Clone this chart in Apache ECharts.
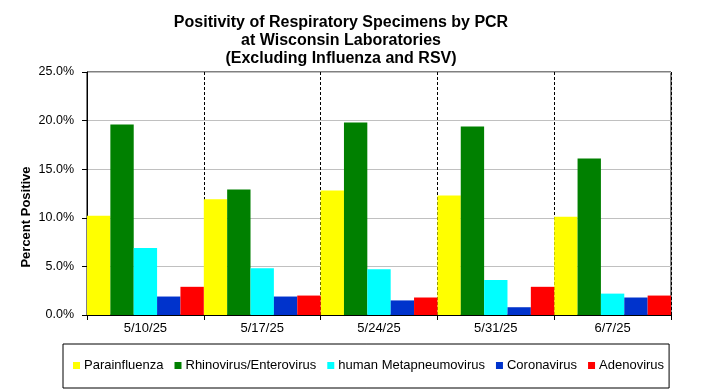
<!DOCTYPE html>
<html>
<head>
<meta charset="utf-8">
<script src="https://cdn.jsdelivr.net/npm/echarts@6/dist/echarts.min.js"></script>
<style>html,body{margin:0;padding:0;background:#fff}#c{width:704px;height:391px}</style>
</head>
<body>
<div id="c"></div>
<script>
const categories = ['5/10/25', '5/17/25', '5/24/25', '5/31/25', '6/7/25'];
const parainfluenza = [10.2, 11.9, 12.8, 12.3, 10.1];
const rhinoEntero = [19.6, 12.9, 19.8, 19.4, 16.1];
const hMPV = [6.9, 4.8, 4.7, 3.6, 2.2];
const coronavirus = [1.9, 1.9, 1.5, 0.8, 1.8];
const adenovirus = [2.9, 2.0, 1.8, 2.9, 2.0];
const seriesNames = ['Parainfluenza', 'Rhinovirus/Enterovirus', 'human Metapneumovirus', 'Coronavirus', 'Adenovirus'];
const seriesColors = ['#FFFF00', '#008000', '#00FFFF', '#0033CC', '#FF0000'];
const seriesData = [parainfluenza, rhinoEntero, hMPV, coronavirus, adenovirus];

const chart = echarts.init(document.getElementById('c'));
const font = 'Arial, "Liberation Sans", sans-serif';
chart.setOption({
  animation: false,
  backgroundColor: '#fff',
  textStyle: { fontFamily: font },
  title: {
    text: 'Positivity of Respiratory Specimens by PCR\nat Wisconsin Laboratories\n(Excluding Influenza and RSV)',
    left: 341,
    textAlign: 'center',
    top: 14,
    padding: 0,
    textStyle: { fontSize: 16, fontWeight: 'bold', color: '#000', lineHeight: 18, fontFamily: font }
  },
  graphic: [{
    type: 'text',
    x: 26, y: 217,
    rotation: Math.PI / 2,
    style: {
      text: 'Percent Positive',
      fontSize: 13, fontWeight: 'bold', fill: '#000', fontFamily: font,
      align: 'center', verticalAlign: 'middle'
    }
  }],
  legend: {
    left: 63,
    top: 344,
    orient: 'horizontal',
    borderColor: '#000',
    borderWidth: 1,
    padding: [15, 5, 16, 10],
    itemWidth: 7,
    itemHeight: 7,
    itemGap: 11,
    icon: 'rect',
    textStyle: { fontSize: 13, color: '#000', fontFamily: font, padding: [0, 0, 0, -1] },
    data: seriesNames
  },
  grid: {
    left: 87, right: 33, top: 72, bottom: 76,
    show: true, borderColor: '#000', borderWidth: 1, backgroundColor: '#fff'
  },
  xAxis: {
    type: 'category',
    data: categories,
    boundaryGap: true,
    axisLine: { lineStyle: { color: '#000', width: 1 } },
    axisTick: { show: true, alignWithLabel: false, length: 5, lineStyle: { color: '#000' } },
    axisLabel: { color: '#000', fontSize: 13, margin: 7, fontFamily: font },
    splitLine: { show: true, lineStyle: { color: '#000', type: [3, 2], width: 1 } }
  },
  yAxis: {
    type: 'value',
    min: 0, max: 25, interval: 5,
    axisLine: { show: true, lineStyle: { color: '#000', width: 1 } },
    axisTick: { show: true, length: 5, lineStyle: { color: '#000' } },
    axisLabel: { color: '#000', fontSize: 12.5, margin: 13, fontFamily: font, formatter: v => v.toFixed(1) + '%' },
    splitLine: { show: true, lineStyle: { color: '#C0C0C0', width: 1 } }
  },
  series: seriesNames.map((n, i) => ({
    name: n,
    type: 'bar',
    data: seriesData[i],
    barGap: '0%',
    barCategoryGap: '0%',
    itemStyle: { color: seriesColors[i] }
  }))
});
</script>
</body>
</html>
